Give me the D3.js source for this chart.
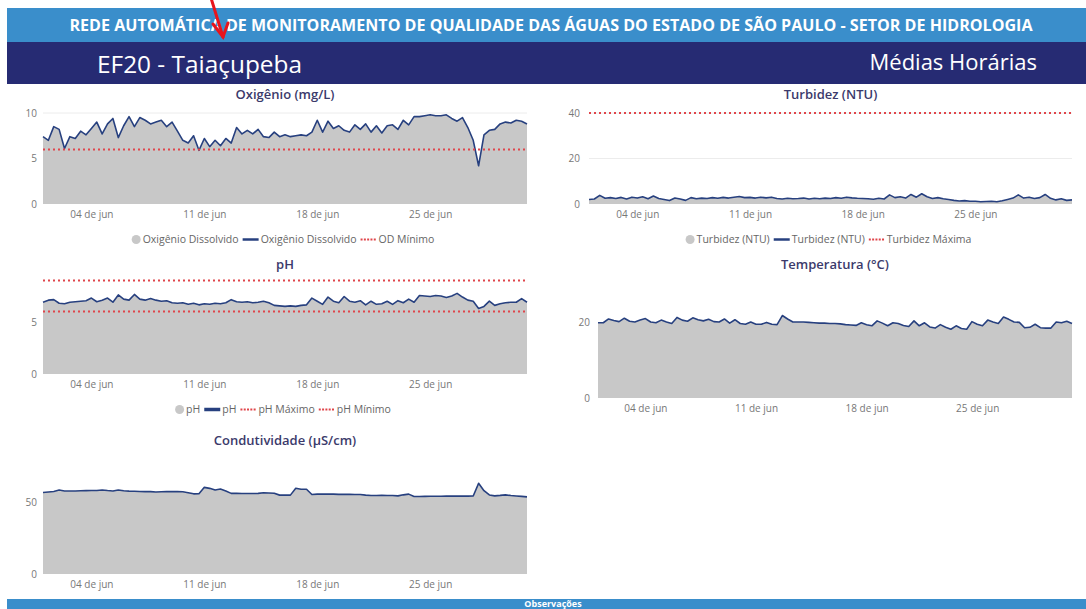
<!DOCTYPE html>
<html><head><meta charset="utf-8">
<script src="https://cdn.jsdelivr.net/npm/d3@7"></script>
<style>body{margin:0;background:#fff;} svg{display:block}</style>
</head><body><svg id="c" width="1086" height="609"></svg>
<script>
const headerTitle = "REDE AUTOMÁTICA DE MONITORAMENTO DE QUALIDADE DAS ÁGUAS DO ESTADO DE SÃO PAULO - SETOR DE HIDROLOGIA";
const stationName = "EF20 - Taiaçupeba";
const periodLabel = "Médias Horárias";
const footerLabel = "Observações";
const startTime = "2023-06-01T00:00";
const stepHours = 8;
const xTickDates = ["2023-06-04", "2023-06-11", "2023-06-18", "2023-06-25"];
const xTickLabels = ["04 de jun", "11 de jun", "18 de jun", "25 de jun"];

const oxygen = [7.4,7.0,8.5,8.2,6.1,7.4,7.2,8.0,7.6,8.3,9.0,7.7,8.8,9.4,7.3,8.6,9.6,8.5,9.5,9.2,8.8,9.0,9.2,8.5,9.0,8.0,7.0,6.7,7.5,5.9,
  7.2,6.3,7.0,6.4,7.2,6.7,8.4,7.7,8.1,7.7,8.2,7.4,7.3,7.9,7.4,7.6,7.4,7.5,7.6,7.5,7.9,9.2,7.9,9.1,8.3,8.6,8.1,7.9,8.7,8.2,
  8.8,7.9,8.6,7.8,8.6,8.7,8.2,9.2,8.7,9.6,9.6,9.7,9.8,9.7,9.7,9.8,9.4,9.1,9.5,8.4,7.0,4.2,7.6,8.1,8.2,8.8,9.0,8.9,9.2,9.1,8.8];
const odMinimo = 6;

const turbidity = [2.0,2.2,3.8,2.5,2.8,2.4,2.9,2.2,3.0,2.6,3.2,2.3,3.5,2.4,2.0,1.5,2.6,2.2,1.6,2.8,2.3,2.6,2.4,2.8,2.5,2.9,2.6,3.0,3.3,2.8,
  2.9,2.6,3.0,2.7,3.0,2.4,2.2,2.5,2.3,2.4,2.6,2.2,2.5,2.3,2.6,2.4,2.8,2.5,3.0,2.7,2.5,2.4,2.3,2.1,2.5,2.2,4.0,2.8,3.2,2.6,
  4.2,3.0,4.5,3.2,2.4,2.8,2.3,2.0,1.6,1.3,1.5,1.2,1.2,1.0,1.1,1.2,1.0,1.4,2.0,2.6,4.0,2.6,3.0,2.4,2.8,4.2,2.5,1.8,2.3,1.6,1.8];
const turbidezMaxima = 40;

const ph = [6.9,7.1,7.15,6.8,6.75,6.9,6.95,7.0,7.05,7.3,6.95,7.1,7.3,6.9,7.6,7.2,7.1,7.65,7.2,7.1,7.25,7.1,7.0,7.05,6.85,6.8,6.85,6.7,6.8,6.65,
  6.75,6.7,6.8,6.75,6.85,7.15,6.95,6.9,6.95,6.85,6.9,7.0,6.85,6.6,6.55,6.5,6.55,6.5,6.6,6.65,7.3,7.0,6.7,7.4,7.0,6.85,7.45,7.0,6.9,7.05,
  6.65,7.0,6.7,6.75,7.0,6.7,7.05,6.85,7.2,6.9,7.55,7.5,7.45,7.55,7.5,7.35,7.5,7.75,7.4,7.1,7.0,6.3,6.5,7.0,6.6,6.75,6.85,6.9,6.9,7.25,6.9];
const phMaximo = 9;
const phMinimo = 6;

const temperature = [19.8,19.8,20.8,20.4,20.1,21.0,20.2,20.0,20.5,20.9,20.0,19.8,20.5,20.0,19.6,21.2,20.5,20.2,21.1,20.6,20.3,20.7,20.1,20.0,20.8,19.7,20.6,19.6,19.4,20.0,
  19.4,19.4,19.9,19.4,19.3,21.7,20.8,20.0,20.0,20.0,19.9,19.8,19.7,19.7,19.6,19.6,19.5,19.3,19.2,19.1,19.8,19.3,19.0,20.3,19.7,19.0,19.8,19.6,19.1,18.8,
  20.3,19.0,19.8,18.7,18.4,19.3,18.6,18.1,19.0,18.3,18.1,20.1,19.4,19.0,20.5,20.0,19.6,21.3,20.7,20.0,19.9,18.5,18.6,19.4,18.5,18.4,18.4,20.0,19.8,20.2,19.6];

const conductivity = [56.6,57.0,57.3,58.3,57.7,57.7,57.7,57.8,57.9,58.0,58.0,58.4,58.0,57.7,58.4,57.8,57.6,57.5,57.3,57.2,57.2,57.0,57.1,57.2,57.3,57.2,57.1,56.5,55.7,55.8,
  60.2,59.5,58.4,59.0,57.7,56.0,56.0,55.9,55.9,55.9,56.0,56.4,56.3,56.1,54.8,54.8,54.8,59.6,58.9,58.9,55.2,55.5,55.5,55.5,55.5,55.3,55.3,55.3,55.2,55.2,
  54.8,54.5,54.5,54.6,54.5,54.5,54.3,55.0,55.5,53.8,53.8,53.9,54.0,54.0,54.0,54.1,54.1,54.1,54.1,54.1,54.2,63.0,57.9,54.9,54.3,54.6,55.0,54.5,54.2,53.9,53.6];

const C = {
  lightBlue: "#3a8ecb", navy: "#262b73", fill: "#c8c8c8", line: "#27407f",
  red: "#e0454a", tick: "#777", title: "#3b3a6b", grid: "#ececec"
};
const FONT = "'Open Sans', 'Noto Sans', sans-serif";

const svg = d3.select("#c");
const t0 = d3.utcParse("%Y-%m-%dT%H:%M")(startTime);
const timeAt = i => d3.utcHour.offset(t0, i * stepHours);
const tickDates = xTickDates.map(d3.utcParse("%Y-%m-%d"));

// ---- header ----
svg.append("rect").attr("x", 7).attr("y", 8).attr("width", 1079).attr("height", 34).attr("fill", C.lightBlue);
svg.append("rect").attr("x", 7).attr("y", 42).attr("width", 1079).attr("height", 42).attr("fill", C.navy);
svg.append("text").attr("x", 551).attr("y", 31).attr("text-anchor", "middle")
  .attr("font-family", FONT).attr("font-weight", 700).attr("font-size", 15.5).attr("fill", "#fff")
  .attr("textLength", 963).attr("lengthAdjust", "spacingAndGlyphs").text(headerTitle);
svg.append("text").attr("x", 97).attr("y", 73).attr("font-family", FONT).attr("font-size", 24)
  .attr("fill", "#fff").attr("textLength", 205).attr("lengthAdjust", "spacingAndGlyphs").text(stationName);
svg.append("text").attr("x", 1037).attr("y", 70).attr("text-anchor", "end").attr("font-family", FONT).attr("font-size", 22)
  .attr("fill", "#fff").text(periodLabel);

// ---- footer ----
svg.append("rect").attr("x", 7).attr("y", 599).attr("width", 1079).attr("height", 10).attr("fill", C.lightBlue);
svg.append("text").attr("x", 553).attr("y", 606.5).attr("text-anchor", "middle").attr("font-family", FONT)
  .attr("font-weight", 700).attr("font-size", 9).attr("fill", "#fff").text(footerLabel);

function chart(cfg) {
  const g = svg.append("g");
  const x = d3.scaleUtc().domain([t0, timeAt(cfg.values.length - 1)]).range(cfg.xr);
  const y = d3.scaleLinear().domain(cfg.yd).range(cfg.yr);
  const cx = (cfg.xr[0] + cfg.xr[1]) / 2;

  g.append("text").attr("x", cx).attr("y", cfg.titleY).attr("text-anchor", "middle")
    .attr("font-family", FONT).attr("font-weight", 600).attr("font-size", 13).attr("fill", C.title).text(cfg.title);

  g.selectAll(".grid").data(cfg.grid || []).join("line")
    .attr("x1", cfg.xr[0]).attr("x2", cfg.xr[1]).attr("y1", d => y(d)).attr("y2", d => y(d))
    .attr("stroke", C.grid).attr("stroke-width", 1);

  const area = d3.area().x((d, i) => x(timeAt(i))).y0(y(0)).y1(d => y(d));
  const line = d3.line().x((d, i) => x(timeAt(i))).y(d => y(d));
  g.append("path").datum(cfg.values).attr("d", area).attr("fill", C.fill);
  g.append("path").datum(cfg.values).attr("d", line).attr("fill", "none")
    .attr("stroke", C.line).attr("stroke-width", 1.6).attr("stroke-linejoin", "round");

  (cfg.limits || []).forEach(v => {
    g.append("line").attr("x1", cfg.xr[0]).attr("x2", cfg.xr[1]).attr("y1", y(v)).attr("y2", y(v))
      .attr("stroke", C.red).attr("stroke-width", 2).attr("stroke-dasharray", "2,3");
  });

  const ya = d3.axisLeft(y).tickValues(cfg.yTicks).tickSize(0).tickPadding(cfg.yPad || 6);
  const yg = g.append("g").attr("transform", `translate(${cfg.xr[0]},0)`).call(ya);
  yg.select(".domain").remove();
  yg.selectAll("text").attr("font-family", FONT).attr("font-size", 10).attr("fill", C.tick);

  const xa = d3.axisBottom(x).tickValues(tickDates).tickFormat((d, i) => xTickLabels[i]).tickSize(0).tickPadding(cfg.xPad || 7);
  const xg = g.append("g").attr("transform", `translate(0,${y(0)})`).call(xa);
  xg.select(".domain").remove();
  xg.selectAll("text").attr("font-family", FONT).attr("font-size", 10).attr("fill", C.tick);

  if (cfg.legend) {
    const lg = g.append("g");
    let pos = 0;
    cfg.legend.forEach(it => {
      const mw = it.type === "dot" ? 10 : 17;
      if (it.type === "dot") {
        lg.append("circle").attr("cx", pos + 4.5).attr("cy", -3.5).attr("r", 4.5).attr("fill", C.fill);
      } else if (it.type === "line") {
        lg.append("line").attr("x1", pos).attr("x2", pos + 16).attr("y1", -3.5).attr("y2", -3.5)
          .attr("stroke", C.line).attr("stroke-width", it.w || 2.5);
      } else {
        lg.append("line").attr("x1", pos).attr("x2", pos + 16).attr("y1", -3.5).attr("y2", -3.5)
          .attr("stroke", C.red).attr("stroke-width", 2).attr("stroke-dasharray", "2,1.3");
      }
      const t = lg.append("text").attr("x", pos + mw + 1).attr("y", 0).attr("font-family", FONT)
        .attr("font-size", 10.5).attr("fill", "#666").text(it.label);
      pos += mw + 1 + t.node().getComputedTextLength() + 4;
    });
    lg.attr("transform", `translate(${cx - pos / 2},${cfg.legendY})`);
  }
}

chart({ title: "Oxigênio (mg/L)", titleY: 99, values: oxygen, xr: [43, 527], yd: [0, 10], yr: [204, 113],
  yTicks: [0, 5, 10], grid: [10], limits: [odMinimo], legendY: 243,
  legend: [{ type: "dot", label: "Oxigênio Dissolvido" }, { type: "line", label: "Oxigênio Dissolvido" }, { type: "dash", label: "OD Mínimo" }] });

chart({ title: "Turbidez (NTU)", titleY: 99, values: turbidity, xr: [589, 1072], yd: [0, 40], yr: [204, 113],
  yTicks: [0, 20, 40], grid: [20, 40], limits: [turbidezMaxima], yPad: 9, legendY: 243,
  legend: [{ type: "dot", label: "Turbidez (NTU)" }, { type: "line", label: "Turbidez (NTU)" }, { type: "dash", label: "Turbidez Máxima" }] });

chart({ title: "pH", titleY: 269, values: ph, xr: [43, 527], yd: [0, 9], yr: [374, 280.4],
  yTicks: [0, 5], limits: [phMaximo, phMinimo], legendY: 413,
  legend: [{ type: "dot", label: "pH" }, { type: "line", label: "pH", w: 3.5 }, { type: "dash", label: "pH Máximo" }, { type: "dash", label: "pH Mínimo" }] });

chart({ title: "Temperatura (°C)", titleY: 269, values: temperature, xr: [598, 1072], yd: [0, 22], yr: [398, 314.4],
  yTicks: [0, 20], yPad: 8 });

chart({ title: "Condutividade (µS/cm)", titleY: 445, values: conductivity, xr: [43, 527], yd: [0, 66], yr: [574, 479],
  yTicks: [0, 50] });

// ---- red annotation arrow ----
const arrow = svg.append("g").attr("stroke", "#e8141b").attr("stroke-width", 3).attr("stroke-linecap", "round").attr("fill", "none");
arrow.append("path").attr("d", d3.line()([[211, -2], [223, 37]]));
arrow.append("path").attr("d", d3.line()([[213, 24], [223, 37], [228, 23]]));
</script></body></html>
